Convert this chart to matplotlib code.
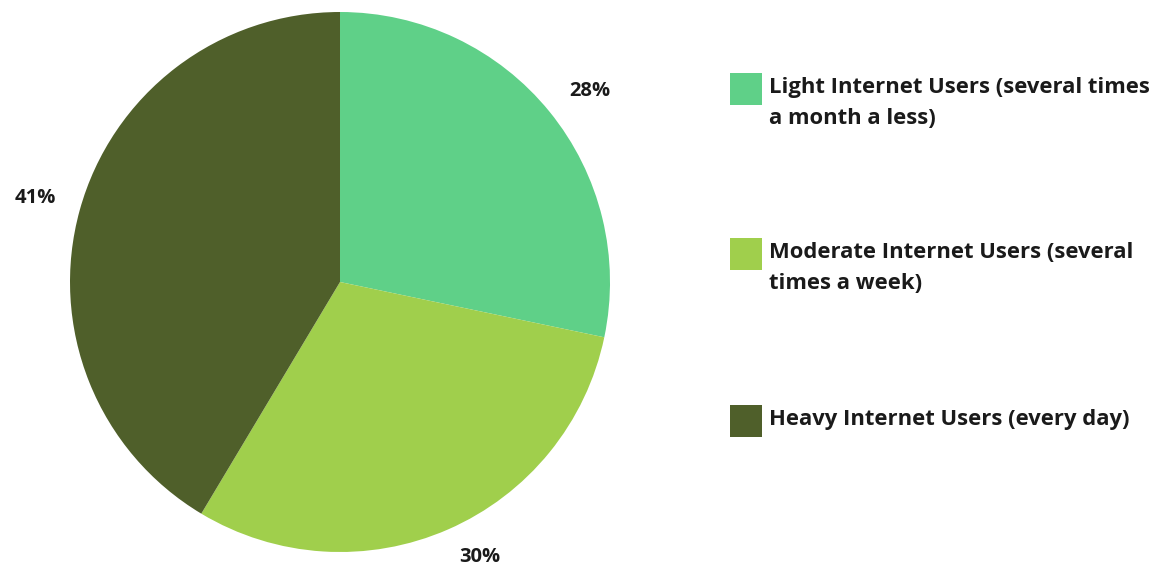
import matplotlib.pyplot as plt
from matplotlib.patches import Rectangle

categories = ['Light Internet Users (several times\na month a less)',
              'Moderate Internet Users (several\ntimes a week)',
              'Heavy Internet Users (every day)']
shares = [28, 30, 41]
colors = ['#5fd088', '#a0cf4c', '#4f5f2a']

plt.rcParams['font.family'] = ['Open Sans', 'DejaVu Sans']

fig = plt.figure(figsize=(11.53, 5.71), dpi=100)
ax = fig.add_axes([70/1153, 19/571, 540/1153, 540/571])

wedges, texts, autotexts = ax.pie(shares, colors=colors, startangle=90, counterclock=False,
                                  autopct='%d%%', pctdistance=1.17,
                                  wedgeprops=dict(linewidth=0),
                                  textprops=dict(fontsize=14.5, fontweight='bold', color='#1a1a1a'))
# the bottom label sits a bit closer to the pie
x, y = autotexts[1].get_position()
autotexts[1].set_position((x * 1.1, y * 0.95))
x, y = autotexts[0].get_position()
autotexts[0].set_position((x * 1.02, y * 0.96))
ax.set_xlim(-1, 1)
ax.set_ylim(-1, 1)
ax.set_aspect('equal')

# legend drawn by hand, positions in pixels from the top
tops = [73, 238, 405]
for lab, c, t in zip(categories, colors, tops):
    fig.patches.append(Rectangle((730/1153, 1 - (t + 32)/571), 32/1153, 32/571,
                                 transform=fig.transFigure, facecolor=c, edgecolor='none'))
    fig.text(769/1153, 1 - (t + 4)/571, lab, fontsize=15.8, fontweight='bold',
             va='top', ha='left', color='#1a1a1a', linespacing=1.6)

fig.savefig('out.png', dpi=100)
